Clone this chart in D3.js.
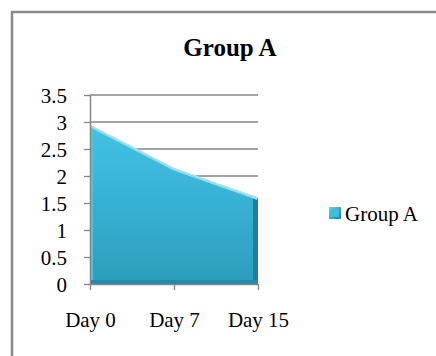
<!DOCTYPE html>
<html>
<head>
<meta charset="utf-8">
<script src="https://cdn.jsdelivr.net/npm/d3@7"></script>
<style>
  html, body { margin: 0; padding: 0; background: #fff; }
  svg { display: block; }
  text { font-family: "Liberation Serif", "Times New Roman", serif; fill: #000; }
</style>
</head>
<body>
<svg id="chart" width="436" height="356"></svg>
<script>
// Series data
const categories = ["Day 0", "Day 7", "Day 15"];
const values = [2.95, 2.15, 1.6];
const yTicks = [0, 0.5, 1, 1.5, 2, 2.5, 3, 3.5];
const seriesName = "Group A";
const chartTitle = "Group A";

const svg = d3.select("#chart");
const W = 436, H = 356;
const plot = { left: 90, right: 258, top: 95, bottom: 284 };
const labelSize = "21px";

// Chart frame (left and top edges)
svg.append("path")
  .attr("d", `M12,${H} L12,12 L${W},12`)
  .attr("fill", "none")
  .attr("stroke", "#8a8a8a")
  .attr("stroke-width", 2.5);

// Title
svg.append("text")
  .attr("x", 230).attr("y", 56)
  .attr("text-anchor", "middle")
  .style("font-size", "25px").style("font-weight", "bold")
  .text(chartTitle);

const x = d3.scalePoint().domain(categories).range([plot.left, plot.right]);
const y = d3.scaleLinear().domain([0, 3.5]).range([plot.bottom, plot.top]);

// Gridlines
svg.append("g").selectAll("line")
  .data(yTicks.filter(d => d > 0))
  .join("line")
  .attr("x1", plot.left).attr("x2", plot.right)
  .attr("y1", d => y(d)).attr("y2", d => y(d))
  .attr("stroke", "#868686").attr("stroke-width", 1.3);

// Gradients for the bevelled area
const defs = svg.append("defs");
const g1 = defs.append("linearGradient").attr("id", "areaFill")
  .attr("x1", 0).attr("y1", 0).attr("x2", 0).attr("y2", 1);
g1.append("stop").attr("offset", "0%").attr("stop-color", "#42c2e4");
g1.append("stop").attr("offset", "55%").attr("stop-color", "#36afd1");
g1.append("stop").attr("offset", "100%").attr("stop-color", "#2c9dbb");

const area = d3.area()
  .x(d => x(d.c))
  .y0(y(0))
  .y1(d => y(d.v));
const pts = categories.map((c, i) => ({ c, v: values[i] }));

defs.append("clipPath").attr("id", "areaClip")
  .append("path").attr("d", area(pts));

svg.append("path")
  .attr("d", area(pts))
  .attr("fill", "url(#areaFill)");

const bevel = svg.append("g").attr("clip-path", "url(#areaClip)");
// Right dark edge
bevel.append("rect")
  .attr("x", plot.right - 5).attr("y", plot.top)
  .attr("width", 5).attr("height", plot.bottom - plot.top)
  .attr("fill", "#1f7f99");
// Bottom dark edge
bevel.append("rect")
  .attr("x", plot.left).attr("y", plot.bottom - 4)
  .attr("width", plot.right - plot.left).attr("height", 4)
  .attr("fill", "#2689a5");
// Left light edge
bevel.append("rect")
  .attr("x", plot.left).attr("y", plot.top)
  .attr("width", 3).attr("height", plot.bottom - plot.top - 4)
  .attr("fill", "#4cc7e6");
// Top highlight
const topLine = d3.line().x(d => x(d.c)).y(d => y(d.v));
bevel.append("path")
  .attr("d", topLine(pts))
  .attr("fill", "none")
  .attr("stroke", "#86def3")
  .attr("stroke-width", 5);
bevel.append("path")
  .attr("d", topLine(pts))
  .attr("fill", "none")
  .attr("stroke", "#bdf0fb")
  .attr("stroke-width", 1.5);

// Axes
const yAxis = d3.axisLeft(y).tickValues(yTicks).tickSize(6).tickSizeOuter(0)
  .tickFormat(d => String(d));
const gy = svg.append("g").attr("transform", `translate(${plot.left},0)`).call(yAxis);
gy.select(".domain").attr("stroke", "#868686").attr("stroke-width", 1.5);
gy.selectAll(".tick line").attr("stroke", "#868686").attr("stroke-width", 1.3);
gy.selectAll(".tick text").attr("x", -23).attr("dy", "0.35em")
  .style("font-size", labelSize).style("fill", "#000");

const xAxis = d3.axisBottom(x).tickSize(6).tickSizeOuter(0);
const gx = svg.append("g").attr("transform", `translate(0,${plot.bottom})`).call(xAxis);
gx.select(".domain").attr("stroke", "#868686").attr("stroke-width", 1.5);
gx.selectAll(".tick line").attr("stroke", "#868686").attr("stroke-width", 1.3);
gx.selectAll(".tick text").attr("y", 43).attr("dy", 0)
  .style("font-size", labelSize).style("fill", "#000");

// Legend
const lg = defs.append("linearGradient").attr("id", "legFill")
  .attr("x1", 0).attr("y1", 0).attr("x2", 1).attr("y2", 1);
lg.append("stop").attr("offset", "0%").attr("stop-color", "#5fd3ef");
lg.append("stop").attr("offset", "100%").attr("stop-color", "#1f7f99");
const leg = svg.append("g").attr("transform", "translate(329,207)");
leg.append("rect").attr("width", 12).attr("height", 12).attr("fill", "url(#legFill)");
leg.append("rect").attr("x", 2).attr("y", 2).attr("width", 8).attr("height", 8).attr("fill", "#3fbde0");
leg.append("text").attr("x", 16).attr("y", 14)
  .style("font-size", labelSize).text(seriesName);
</script>
</body>
</html>
